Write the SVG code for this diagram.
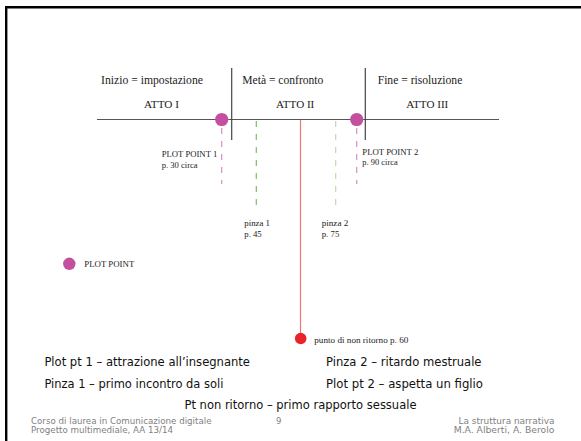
<svg xmlns="http://www.w3.org/2000/svg" width="581" height="441" viewBox="0 0 581 441">
<style>
.serif{font-family:"Liberation Serif","Times New Roman",serif;fill:#222}
.big{font-size:11.5px}
.act{font-size:11px}
.small{font-size:8px}
.sans{font-family:"DejaVu Sans","Liberation Sans",sans-serif;font-size:12px;fill:#111}
.foot{font-family:"DejaVu Sans","Liberation Sans",sans-serif;font-size:8.5px;fill:#7f7f7f}
.pp{fill:#c44f9e}
.pinkdash{stroke:#d98cc4;stroke-width:1.2;stroke-dasharray:6 7;fill:none}
.greendash{stroke:#7cc35e;stroke-width:1.2;stroke-dasharray:6 7;fill:none}
.greendash2{stroke:#b9dfa5;stroke-width:1.2;stroke-dasharray:6 7;fill:none}
</style>
<rect x="0" y="0" width="581" height="441" fill="#fff"/>
<path d="M6.2,441 V7.2 H581" fill="none" stroke="#000" stroke-width="2.4"/>
<g id="connectors">
  <line x1="97" y1="119.5" x2="499" y2="119.5" stroke="#555" stroke-width="1"/>
  <line x1="231.7" y1="68" x2="231.7" y2="140" stroke="#444" stroke-width="1.2"/>
  <line x1="365.3" y1="68" x2="365.3" y2="140" stroke="#444" stroke-width="1.2"/>
  <line class="pinkdash" x1="221.7" y1="128" x2="221.7" y2="184"/>
  <line class="pinkdash" x1="356.7" y1="128" x2="356.7" y2="184"/>
  <line class="greendash" x1="256.3" y1="121" x2="256.3" y2="212"/>
  <line class="greendash2" x1="335.7" y1="121" x2="335.7" y2="212"/>
  <line x1="300.5" y1="120" x2="300.5" y2="334" stroke="#f07a68" stroke-width="1.2"/>
</g>
<g id="header">
  <text class="serif big" x="101" y="84" textLength="102" lengthAdjust="spacingAndGlyphs">Inizio = impostazione</text>
  <text class="serif big" x="242.3" y="84" textLength="81" lengthAdjust="spacingAndGlyphs">Metà = confronto</text>
  <text class="serif big" x="377.7" y="84" textLength="84.6" lengthAdjust="spacingAndGlyphs">Fine = risoluzione</text>
  <text class="serif act" x="144" y="108.3" textLength="35" lengthAdjust="spacingAndGlyphs">ATTO I</text>
  <text class="serif act" x="276" y="108.3" textLength="38.3" lengthAdjust="spacingAndGlyphs">ATTO II</text>
  <text class="serif act" x="406.3" y="108.3" textLength="42" lengthAdjust="spacingAndGlyphs">ATTO III</text>
</g>
<g id="plotpoint1">
  <circle class="pp" cx="221.7" cy="119.5" r="6.6"/>
  <text class="serif small" x="161.7" y="157.3" textLength="55.6" lengthAdjust="spacingAndGlyphs">PLOT POINT 1</text>
  <text class="serif small" x="161.7" y="167.7" textLength="36" lengthAdjust="spacingAndGlyphs">p. 30 circa</text>
</g>
<g id="plotpoint2">
  <circle class="pp" cx="356.7" cy="119.5" r="6.6"/>
  <text class="serif small" x="362.3" y="155" textLength="56" lengthAdjust="spacingAndGlyphs">PLOT POINT 2</text>
  <text class="serif small" x="362.3" y="165.3" textLength="35.4" lengthAdjust="spacingAndGlyphs">p. 90 circa</text>
</g>
<g id="pinza1">
  <text class="serif small" x="244.3" y="226" textLength="25.7" lengthAdjust="spacingAndGlyphs">pinza 1</text>
  <text class="serif small" x="244.3" y="236.5" textLength="17.4" lengthAdjust="spacingAndGlyphs">p. 45</text>
</g>
<g id="pinza2">
  <text class="serif small" x="321.7" y="226" textLength="26.6" lengthAdjust="spacingAndGlyphs">pinza 2</text>
  <text class="serif small" x="321.7" y="236.5" textLength="17.6" lengthAdjust="spacingAndGlyphs">p. 75</text>
</g>
<g id="legend">
  <circle class="pp" cx="69.3" cy="263.8" r="6.2"/>
  <text class="serif small" x="84.3" y="266.5" textLength="50" lengthAdjust="spacingAndGlyphs">PLOT POINT</text>
</g>
<g id="nonritorno">
  <circle cx="300.7" cy="338.5" r="5.8" fill="#e8232a"/>
  <text class="serif" style="font-size:7.5px" x="314.3" y="343.3" textLength="94" lengthAdjust="spacingAndGlyphs">punto di non ritorno p. 60</text>
</g>
<g id="notes">
  <text class="sans" x="44.4" y="366" textLength="205.6" lengthAdjust="spacingAndGlyphs">Plot pt 1 – attrazione all’insegnante</text>
  <text class="sans" x="44.4" y="387.5" textLength="179" lengthAdjust="spacingAndGlyphs">Pinza 1 – primo incontro da soli</text>
  <text class="sans" x="326" y="366" textLength="155.5" lengthAdjust="spacingAndGlyphs">Pinza 2 – ritardo mestruale</text>
  <text class="sans" x="326" y="387.5" textLength="157" lengthAdjust="spacingAndGlyphs">Plot pt 2 – aspetta un figlio</text>
  <text class="sans" x="184.5" y="408.5" textLength="232" lengthAdjust="spacingAndGlyphs">Pt non ritorno – primo rapporto sessuale</text>
</g>
<g id="footer">
  <text class="foot" x="31" y="423.5" textLength="180.5" lengthAdjust="spacingAndGlyphs">Corso di laurea in Comunicazione digitale</text>
  <text class="foot" x="31" y="433" textLength="142" lengthAdjust="spacingAndGlyphs">Progetto multimediale, AA 13/14</text>
  <text class="foot" x="276" y="423.5">9</text>
  <text class="foot" x="458.5" y="423.5" textLength="96" lengthAdjust="spacingAndGlyphs">La struttura narrativa</text>
  <text class="foot" x="453.7" y="433" textLength="100.7" lengthAdjust="spacingAndGlyphs">M.A. Alberti, A. Berolo</text>
</g>
</svg>
